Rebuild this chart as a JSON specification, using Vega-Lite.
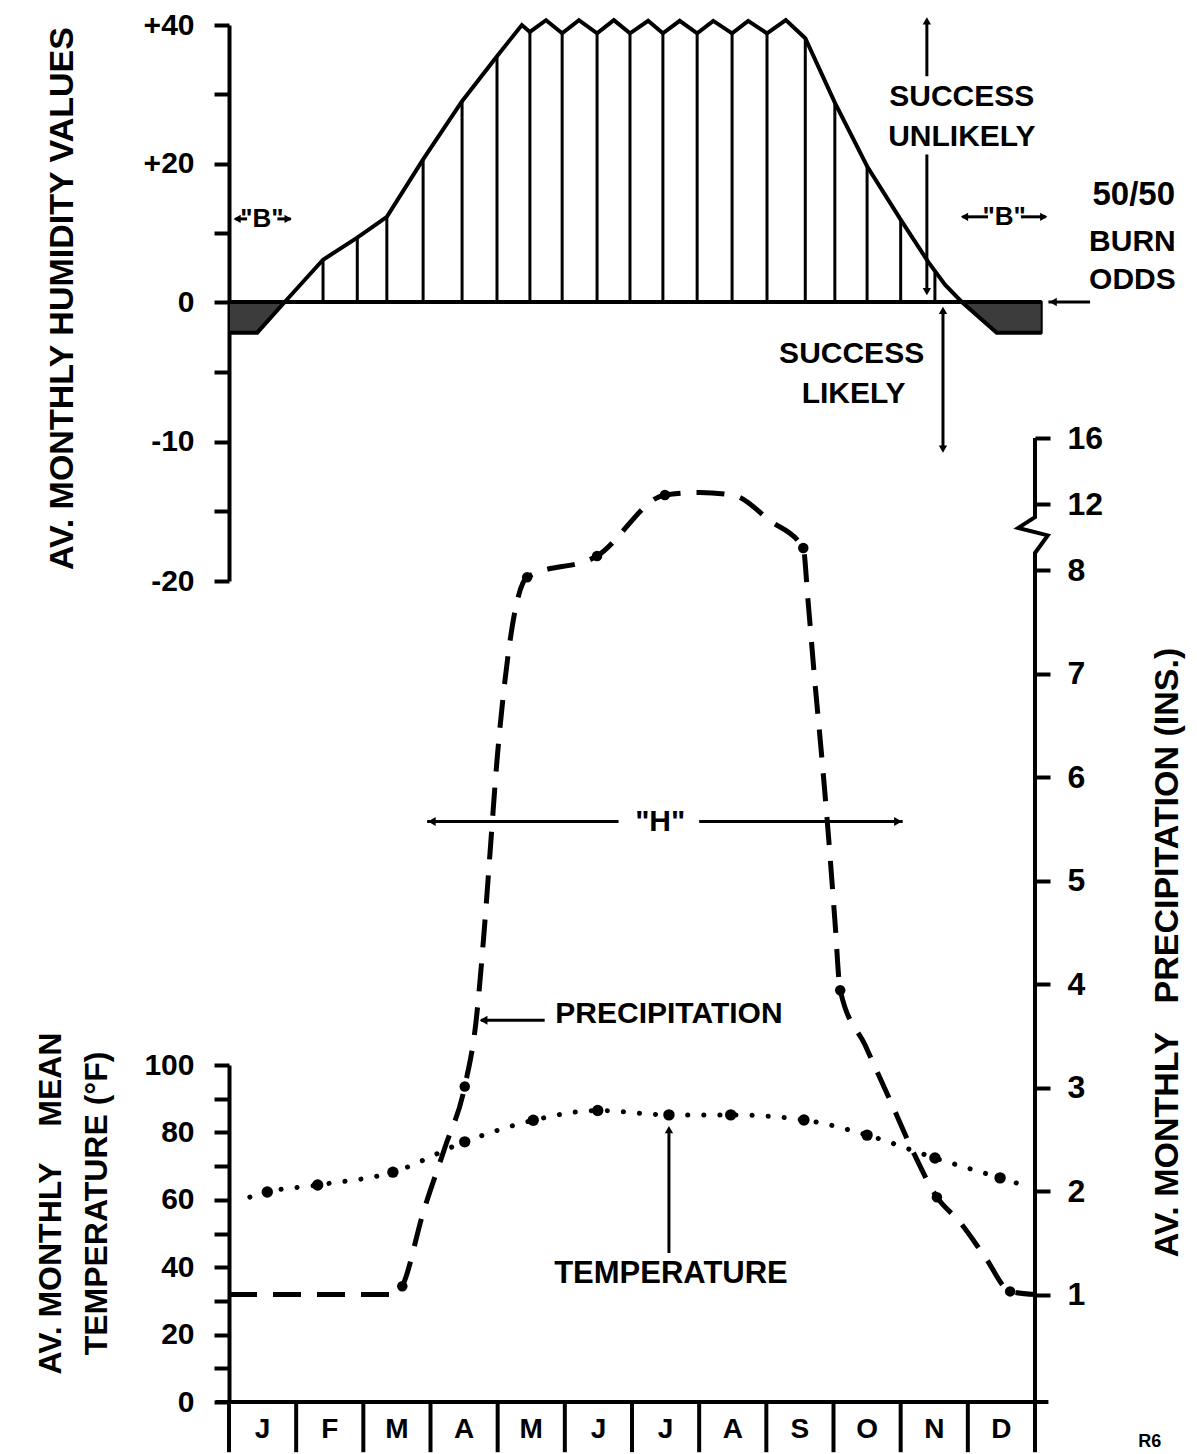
{
  "$schema": "https://vega.github.io/schema/vega-lite/v6.json",
  "autosize": {"type": "none"},
  "padding": {"left": 229, "top": 0, "right": 162, "bottom": 0},
  "width": 806,
  "height": 1454,
  "background": "white",
  "data": {"values": [{}]},
  "config": {
    "view": {"stroke": null},
    "mark": {"color": "black"},
    "text": {"font": "Liberation Sans", "fontWeight": "bold", "fontSize": 30, "align": "center", "baseline": "middle", "color": "black"},
    "axis": {
      "grid": false, "domainColor": "black", "domainWidth": 4, "tickColor": "black", "tickWidth": 4, "tickSize": 15,
      "labelFont": "Liberation Sans", "labelFontWeight": "bold", "labelFontSize": 30, "labelColor": "black",
      "labelPadding": 20, "labelOverlap": false,
      "titleFont": "Liberation Sans", "titleFontWeight": "bold", "titleColor": "black", "titleFontSize": 32
    }
  },
  "resolve": {"scale": {"y": "independent"}, "axis": {"y": "independent"}},
  "layer": [
    {
      "data": {"values": [
        {"m": 1.40, "h": 6.1}, {"m": 1.91, "h": 9.3}, {"m": 2.35, "h": 12.3}, {"m": 2.89, "h": 20.6},
        {"m": 3.47, "h": 29.0}, {"m": 3.99, "h": 35.5}, {"m": 4.48, "h": 39.0}, {"m": 4.96, "h": 38.8},
        {"m": 5.48, "h": 38.8}, {"m": 5.97, "h": 38.8}, {"m": 6.46, "h": 38.8}, {"m": 6.97, "h": 38.8},
        {"m": 7.49, "h": 38.8}, {"m": 8.01, "h": 38.8}, {"m": 8.58, "h": 38.1}, {"m": 9.02, "h": 28.8},
        {"m": 9.50, "h": 19.6}, {"m": 10.0, "h": 11.9}, {"m": 10.51, "h": 4.3}
      ]},
      "mark": {"type": "rule", "strokeWidth": 3},
      "encoding": {
        "x": {"field": "m", "type": "quantitative", "scale": {"domain": [0, 12]}, "axis": null},
        "y": {"field": "h", "type": "quantitative",
              "scale": {"domain": [-20, 0, 40], "range": [581, 302, 25]},
              "axis": {"orient": "left", "values": [-20, -15, -10, -5, 0, 10, 20, 30, 40],
                       "labelExpr": "datum.value == 40 ? '+40' : datum.value == 20 ? '+20' : datum.value == 0 ? '0' : datum.value == -10 ? '-10' : datum.value == -20 ? '-20' : ''",
                       "title": "AV. MONTHLY HUMIDITY VALUES", "titleAngle": -90, "titleX": -167, "titleY": 298,
                       "titleAlign": "center", "titleBaseline": "middle", "titleFontSize": 34}},
        "y2": {"datum": 0}
      }
    },
    {
      "data": {"values": [
        {"m": 0, "h": -2.2, "g": "L"}, {"m": 0.42, "h": -2.2, "g": "L"}, {"m": 0.83, "h": 0, "g": "L"},
        {"m": 10.91, "h": 0, "g": "R"}, {"m": 11.43, "h": -2.2, "g": "R"}, {"m": 12.1, "h": -2.2, "g": "R"}
      ]},
      "mark": {"type": "area", "fill": "#3c3c3c", "stroke": "black", "strokeWidth": 2},
      "encoding": {
        "x": {"field": "m", "type": "quantitative", "axis": null},
        "y": {"field": "h", "type": "quantitative", "scale": {"domain": [-20, 0, 40], "range": [581, 302, 25]}, "axis": null},
        "y2": {"datum": 0},
        "detail": {"field": "g"}
      }
    },
    {
      "mark": {"type": "rule", "strokeWidth": 4},
      "encoding": {
        "x": {"datum": 0, "type": "quantitative", "axis": null},
        "x2": {"datum": 12.1},
        "y": {"datum": 0, "type": "quantitative", "scale": {"domain": [-20, 0, 40], "range": [581, 302, 25]}, "axis": null}
      }
    },
    {
      "data": {"values": [
        {"m": 0, "h": -2.2}, {"m": 0.42, "h": -2.2}, {"m": 0.83, "h": 0}, {"m": 1.40, "h": 6.1},
        {"m": 1.91, "h": 9.3}, {"m": 2.35, "h": 12.3}, {"m": 2.89, "h": 20.6}, {"m": 3.47, "h": 29.0},
        {"m": 3.99, "h": 35.5}, {"m": 4.36, "h": 40.0}, {"m": 4.48, "h": 39.0}, {"m": 4.72, "h": 40.7},
        {"m": 4.96, "h": 38.8}, {"m": 5.21, "h": 40.7}, {"m": 5.48, "h": 38.8}, {"m": 5.73, "h": 40.7},
        {"m": 5.97, "h": 38.8}, {"m": 6.24, "h": 40.6}, {"m": 6.46, "h": 38.8}, {"m": 6.71, "h": 40.6},
        {"m": 6.97, "h": 38.8}, {"m": 7.21, "h": 40.6}, {"m": 7.49, "h": 38.8}, {"m": 7.73, "h": 40.6},
        {"m": 8.01, "h": 38.8}, {"m": 8.29, "h": 40.7}, {"m": 8.58, "h": 38.1}, {"m": 9.02, "h": 28.8},
        {"m": 9.50, "h": 19.6}, {"m": 10.0, "h": 11.9}, {"m": 10.41, "h": 5.8}, {"m": 10.66, "h": 2.5},
        {"m": 10.91, "h": 0}, {"m": 11.43, "h": -2.2}, {"m": 12.1, "h": -2.2}
      ]},
      "mark": {"type": "line", "strokeWidth": 4, "strokeJoin": "miter"},
      "encoding": {
        "x": {"field": "m", "type": "quantitative", "axis": null},
        "y": {"field": "h", "type": "quantitative", "scale": {"domain": [-20, 0, 40], "range": [581, 302, 25]}, "axis": null}
      }
    },
    {
      "data": {"values": [
        {"x1": 10.39, "x2": 10.39, "y1": 32.6, "y2": 40.6},
        {"x1": 10.39, "x2": 10.39, "y1": 21.3, "y2": 1.4},
        {"x1": 10.63, "x2": 10.63, "y1": -0.6, "y2": -10.5},
        {"x1": 12.2, "x2": 12.82, "y1": 0, "y2": 0},
        {"x1": 0.1, "x2": 0.27, "y1": 12.0, "y2": 12.0},
        {"x1": 0.72, "x2": 0.92, "y1": 12.0, "y2": 12.0},
        {"x1": 10.92, "x2": 11.3, "y1": 12.3, "y2": 12.3},
        {"x1": 11.79, "x2": 12.16, "y1": 12.3, "y2": 12.3}
      ]},
      "mark": {"type": "rule", "strokeWidth": 3},
      "encoding": {
        "x": {"field": "x1", "type": "quantitative", "axis": null},
        "x2": {"field": "x2"},
        "y": {"field": "y1", "type": "quantitative", "scale": {"domain": [-20, 0, 40], "range": [581, 302, 25]}, "axis": null},
        "y2": {"field": "y2"}
      }
    },
    {
      "data": {"values": [
        {"m": 10.39, "h": 40.6, "s": "triangle-up"},
        {"m": 10.39, "h": 1.5, "s": "triangle-down"},
        {"m": 10.63, "h": -0.6, "s": "triangle-up"},
        {"m": 10.63, "h": -10.55, "s": "triangle-down"},
        {"m": 12.27, "h": 0, "s": "triangle-left"},
        {"m": 0.12, "h": 12.0, "s": "triangle-left"},
        {"m": 0.88, "h": 12.0, "s": "triangle-right"},
        {"m": 10.95, "h": 12.3, "s": "triangle-left"},
        {"m": 12.13, "h": 12.3, "s": "triangle-right"}
      ]},
      "mark": {"type": "point", "filled": true, "size": 70, "opacity": 1},
      "encoding": {
        "x": {"field": "m", "type": "quantitative", "axis": null},
        "y": {"field": "h", "type": "quantitative", "scale": {"domain": [-20, 0, 40], "range": [581, 302, 25]}, "axis": null},
        "shape": {"field": "s", "type": "nominal", "scale": null, "legend": null}
      }
    },
    {
      "data": {"values": [
        {"m": 10.91, "h": 29.6, "txt": "SUCCESS"},
        {"m": 10.91, "h": 23.8, "txt": "UNLIKELY"},
        {"m": 9.27, "h": -3.71, "txt": "SUCCESS"},
        {"m": 9.3, "h": -6.57, "txt": "LIKELY"},
        {"m": 13.45, "h": 8.7, "txt": "BURN"},
        {"m": 13.45, "h": 3.2, "txt": "ODDS"}
      ]},
      "mark": {"type": "text", "fontSize": 30},
      "encoding": {
        "x": {"field": "m", "type": "quantitative", "axis": null},
        "y": {"field": "h", "type": "quantitative", "scale": {"domain": [-20, 0, 40], "range": [581, 302, 25]}, "axis": null},
        "text": {"field": "txt"}
      }
    },
    {"mark": {"type": "text", "text": "50/50", "fontSize": 33}, "encoding": {"x": {"datum": 13.47, "type": "quantitative", "axis": null}, "y": {"datum": 15.5, "type": "quantitative", "scale": {"domain": [-20, 0, 40], "range": [581, 302, 25]}, "axis": null}}},
    {"mark": {"type": "text", "text": "\"B\"", "fontSize": 26}, "encoding": {"x": {"datum": 0.49, "type": "quantitative", "axis": null}, "y": {"datum": 12.0, "type": "quantitative", "scale": {"domain": [-20, 0, 40], "range": [581, 302, 25]}, "axis": null}}},
    {"mark": {"type": "text", "text": "\"B\"", "fontSize": 26}, "encoding": {"x": {"datum": 11.54, "type": "quantitative", "axis": null}, "y": {"datum": 12.3, "type": "quantitative", "scale": {"domain": [-20, 0, 40], "range": [581, 302, 25]}, "axis": null}}},
    {
      "data": {"values": [
        {"m": 0.31, "t": 60.8}, {"m": 0.57, "t": 62.3}, {"m": 1.32, "t": 64.4},
        {"m": 2.44, "t": 68.2}, {"m": 3.51, "t": 77.2}, {"m": 4.53, "t": 83.6},
        {"m": 5.49, "t": 86.5}, {"m": 6.55, "t": 85.2}, {"m": 7.47, "t": 85.2},
        {"m": 8.56, "t": 83.7}, {"m": 9.50, "t": 79.2}, {"m": 10.51, "t": 72.4},
        {"m": 11.48, "t": 66.5}, {"m": 11.91, "t": 63.8}
      ]},
      "mark": {"type": "line", "strokeWidth": 5, "strokeCap": "round", "strokeDash": [0.1, 16], "interpolate": "monotone"},
      "encoding": {
        "x": {"field": "m", "type": "quantitative", "axis": null},
        "y": {"field": "t", "type": "quantitative",
              "scale": {"domain": [0, 100], "range": [1402, 1065]},
              "axis": {"orient": "left", "values": [0, 10, 20, 30, 40, 50, 60, 70, 80, 90, 100],
                       "labelExpr": "datum.value % 20 == 0 ? datum.label : ''",
                       "title": ["AV. MONTHLY\u00a0\u00a0\u00a0\u00a0MEAN", "TEMPERATURE (°F)"], "titleAngle": -90,
                       "titleX": -179, "titleY": 1203, "titleAlign": "center", "titleBaseline": "middle",
                       "titleLineHeight": 46, "titleFontSize": 32}}
      }
    },
    {
      "data": {"values": [
        {"m": 0.57, "t": 62.3}, {"m": 1.32, "t": 64.4}, {"m": 2.44, "t": 68.2}, {"m": 3.51, "t": 77.2},
        {"m": 4.53, "t": 83.6}, {"m": 5.49, "t": 86.5}, {"m": 6.55, "t": 85.2}, {"m": 7.47, "t": 85.2},
        {"m": 8.56, "t": 83.7}, {"m": 9.50, "t": 79.2}, {"m": 10.51, "t": 72.4}, {"m": 11.48, "t": 66.5}
      ]},
      "mark": {"type": "point", "filled": true, "size": 130, "opacity": 1},
      "encoding": {
        "x": {"field": "m", "type": "quantitative", "axis": null},
        "y": {"field": "t", "type": "quantitative", "scale": {"domain": [0, 100], "range": [1402, 1065]}, "axis": null}
      }
    },
    {
      "data": {"values": [
        {"b": 0}, {"b": 1}, {"b": 2}, {"b": 3}, {"b": 4}, {"b": 5}, {"b": 6},
        {"b": 7}, {"b": 8}, {"b": 9}, {"b": 10}, {"b": 11}, {"b": 12}
      ]},
      "mark": {"type": "rule", "strokeWidth": 4},
      "encoding": {
        "x": {"field": "b", "type": "quantitative", "axis": null},
        "y": {"datum": 0, "type": "quantitative", "scale": {"domain": [0, 100], "range": [1402, 1065]}, "axis": null},
        "y2": {"datum": -14.9}
      }
    },
    {
      "mark": {"type": "rule", "strokeWidth": 4},
      "encoding": {
        "x": {"datum": -0.2, "type": "quantitative", "axis": null},
        "x2": {"datum": 12.2},
        "y": {"datum": 0, "type": "quantitative", "scale": {"domain": [0, 100], "range": [1402, 1065]}, "axis": null}
      }
    },
    {
      "data": {"values": [
        {"mon": "J", "c": 0.5}, {"mon": "F", "c": 1.5}, {"mon": "M", "c": 2.5}, {"mon": "A", "c": 3.5},
        {"mon": "M", "c": 4.5}, {"mon": "J", "c": 5.5}, {"mon": "J", "c": 6.5}, {"mon": "A", "c": 7.5},
        {"mon": "S", "c": 8.5}, {"mon": "O", "c": 9.5}, {"mon": "N", "c": 10.5}, {"mon": "D", "c": 11.5}
      ]},
      "mark": {"type": "text", "fontSize": 28},
      "encoding": {
        "x": {"field": "c", "type": "quantitative", "axis": null},
        "y": {"datum": -8.3, "type": "quantitative", "scale": {"domain": [0, 100], "range": [1402, 1065]}, "axis": null},
        "text": {"field": "mon"}
      }
    },
    {
      "mark": {"type": "rule", "strokeWidth": 3},
      "encoding": {
        "x": {"datum": 6.55, "type": "quantitative", "axis": null},
        "y": {"datum": 44.2, "type": "quantitative", "scale": {"domain": [0, 100], "range": [1402, 1065]}, "axis": null},
        "y2": {"datum": 80.5}
      }
    },
    {
      "mark": {"type": "point", "filled": true, "size": 70, "shape": "triangle-up", "opacity": 1},
      "encoding": {
        "x": {"datum": 6.55, "type": "quantitative", "axis": null},
        "y": {"datum": 80.8, "type": "quantitative", "scale": {"domain": [0, 100], "range": [1402, 1065]}, "axis": null}
      }
    },
    {"mark": {"type": "text", "text": "TEMPERATURE", "fontSize": 31}, "encoding": {"x": {"datum": 6.58, "type": "quantitative", "axis": null}, "y": {"datum": 38.0, "type": "quantitative", "scale": {"domain": [0, 100], "range": [1402, 1065]}, "axis": null}}},
    {"mark": {"type": "text", "text": "R6", "fontSize": 18}, "encoding": {"x": {"datum": 13.71, "type": "quantitative", "axis": null}, "y": {"datum": -11.8, "type": "quantitative", "scale": {"domain": [0, 100], "range": [1402, 1065]}, "axis": null}}},
    {
      "data": {"values": [
        {"m": 0, "p": 1.0}, {"m": 2.5, "p": 1.0}, {"m": 2.58, "p": 1.08},
        {"m": 2.89, "p": 1.79}, {"m": 3.22, "p": 2.43}, {"m": 3.51, "p": 3.01},
        {"m": 3.68, "p": 3.65}, {"m": 3.80, "p": 4.52}, {"m": 3.89, "p": 5.30},
        {"m": 3.99, "p": 6.16}, {"m": 4.11, "p": 6.94}, {"m": 4.26, "p": 7.61},
        {"m": 4.44, "p": 7.93}, {"m": 5.48, "p": 8.85}, {"m": 6.49, "p": 12.55},
        {"m": 7.01, "p": 12.7}, {"m": 7.53, "p": 12.5}, {"m": 8.05, "p": 11.0},
        {"m": 8.55, "p": 9.33}, {"m": 8.62, "p": 7.71}, {"m": 8.72, "p": 6.94},
        {"m": 8.83, "p": 6.16}, {"m": 8.93, "p": 5.39}, {"m": 9.02, "p": 4.62},
        {"m": 9.10, "p": 3.94}, {"m": 9.47, "p": 3.41}, {"m": 9.84, "p": 2.88},
        {"m": 10.17, "p": 2.40}, {"m": 10.54, "p": 1.94}, {"m": 10.88, "p": 1.70},
        {"m": 11.25, "p": 1.37}, {"m": 11.63, "p": 1.03}, {"m": 12.0, "p": 1.0}
      ]},
      "mark": {"type": "line", "strokeWidth": 5, "strokeDash": [28, 16], "interpolate": "monotone"},
      "encoding": {
        "x": {"field": "m", "type": "quantitative", "axis": null},
        "y": {"field": "p", "type": "quantitative",
              "scale": {"domain": [0, 8, 16], "range": [1398, 570, 438]},
              "axis": {"orient": "right", "values": [1, 2, 3, 4, 5, 6, 7, 8, 12, 16], "domain": false,
                       "labelPadding": 17, "labelFontSize": 32,
                       "title": "AV. MONTHLY\u00a0\u00a0\u00a0PRECIPITATION (INS.)", "titleAngle": -90,
                       "titleX": 132, "titleY": 952, "titleAlign": "center", "titleBaseline": "middle",
                       "titleFontSize": 34}}
      }
    },
    {
      "data": {"values": [
        {"m": 2.58, "p": 1.08}, {"m": 3.51, "p": 3.01}, {"m": 4.44, "p": 7.93}, {"m": 5.48, "p": 8.85},
        {"m": 6.49, "p": 12.55}, {"m": 8.55, "p": 9.33}, {"m": 9.10, "p": 3.94}, {"m": 10.54, "p": 1.94},
        {"m": 11.63, "p": 1.03}
      ]},
      "mark": {"type": "point", "filled": true, "size": 110, "opacity": 1},
      "encoding": {
        "x": {"field": "m", "type": "quantitative", "axis": null},
        "y": {"field": "p", "type": "quantitative", "scale": {"domain": [0, 8, 16], "range": [1398, 570, 438]}, "axis": null}
      }
    },
    {
      "data": {"values": [
        {"i": 0, "m": 12, "p": 16}, {"i": 1, "m": 12, "p": 11.2}, {"i": 2, "m": 11.75, "p": 10.55},
        {"i": 3, "m": 12.19, "p": 10.1}, {"i": 4, "m": 12.0, "p": 9.03}, {"i": 5, "m": 12, "p": -0.04}
      ]},
      "mark": {"type": "line", "strokeWidth": 4, "strokeJoin": "miter"},
      "encoding": {
        "x": {"field": "m", "type": "quantitative", "axis": null},
        "y": {"field": "p", "type": "quantitative", "scale": {"domain": [0, 8, 16], "range": [1398, 570, 438]}, "axis": null},
        "order": {"field": "i"}
      }
    },
    {
      "data": {"values": [
        {"x1": 2.95, "x2": 5.8, "y1": 5.57},
        {"x1": 7.0, "x2": 10.03, "y1": 5.57},
        {"x1": 3.75, "x2": 4.7, "y1": 3.65}
      ]},
      "mark": {"type": "rule", "strokeWidth": 3},
      "encoding": {
        "x": {"field": "x1", "type": "quantitative", "axis": null},
        "x2": {"field": "x2"},
        "y": {"field": "y1", "type": "quantitative", "scale": {"domain": [0, 8, 16], "range": [1398, 570, 438]}, "axis": null}
      }
    },
    {
      "data": {"values": [
        {"m": 3.02, "p": 5.57, "s": "triangle-left"},
        {"m": 9.96, "p": 5.57, "s": "triangle-right"},
        {"m": 3.79, "p": 3.65, "s": "triangle-left"}
      ]},
      "mark": {"type": "point", "filled": true, "size": 80, "opacity": 1},
      "encoding": {
        "x": {"field": "m", "type": "quantitative", "axis": null},
        "y": {"field": "p", "type": "quantitative", "scale": {"domain": [0, 8, 16], "range": [1398, 570, 438]}, "axis": null},
        "shape": {"field": "s", "type": "nominal", "scale": null, "legend": null}
      }
    },
    {
      "data": {"values": [
        {"m": 6.42, "p": 5.57, "txt": "\"H\""},
        {"m": 6.55, "p": 3.71, "txt": "PRECIPITATION"}
      ]},
      "mark": {"type": "text", "fontSize": 30},
      "encoding": {
        "x": {"field": "m", "type": "quantitative", "axis": null},
        "y": {"field": "p", "type": "quantitative", "scale": {"domain": [0, 8, 16], "range": [1398, 570, 438]}, "axis": null},
        "text": {"field": "txt"}
      }
    }
  ]
}
